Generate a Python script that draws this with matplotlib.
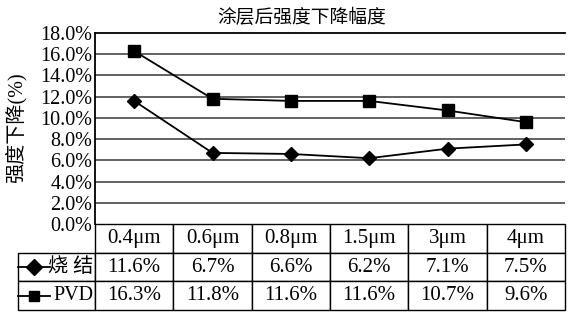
import matplotlib
matplotlib.use("Agg")
import matplotlib.pyplot as plt
from matplotlib.lines import Line2D

plt.rcParams['font.family'] = ['Liberation Serif', 'Noto Sans CJK SC', 'DejaVu Sans']

categories = ['0.4μm', '0.6μm', '0.8μm', '1.5μm', '3μm', '4μm']
sintered = [11.6, 6.7, 6.6, 6.2, 7.1, 7.5]
pvd = [16.3, 11.8, 11.6, 11.6, 10.7, 9.6]
series_names = ['烧 结', 'PVD']
yticks = [0, 2, 4, 6, 8, 10, 12, 14, 16, 18]

W, H = 571, 320
fig = plt.figure(figsize=(W / 100, H / 100), dpi=100)
x0, x1, ytop, ybot = 95, 565, 33, 224
ax = fig.add_axes([x0 / W, 1 - ybot / H, (x1 - x0) / W, (ybot - ytop) / H])

xs = range(len(categories))
ax.plot(xs, sintered, color='black', lw=1.3, marker='D', ms=7.5, zorder=3)
ax.plot(xs, pvd, color='black', lw=1.3, marker='s', ms=8, zorder=3)

ax.set_xlim(-0.5, len(categories) - 0.5)
ax.set_ylim(0, 18)
ax.set_yticks(yticks)
ax.set_yticklabels([f'{v:.1f}%' for v in yticks], fontsize=14.5)
ax.tick_params(axis='y', length=0, pad=2)
ax.set_xticks([])
for v in yticks[1:-1]:
    ax.axhline(v, color='#555555', lw=1.3, zorder=1)
ax.spines['right'].set_visible(False)
ax.spines['bottom'].set_visible(False)
ax.spines['top'].set_linewidth(1.3)
ax.spines['left'].set_linewidth(1.3)

fig.text(0.528, 1 - 17 / H, '涂层后强度下降幅度', fontsize=13.5, ha='center', va='center',
         family=['Noto Sans CJK SC'])
fig.text(16 / W, 1 - 128 / H, '强度下降(%)', fontsize=14.5, rotation=90, ha='center', va='center')

# data table, first column holds the series names
cells = [[series_names[0]] + [f'{v}%' for v in sintered],
         [series_names[1]] + [f'{v}%' for v in pvd]]
lab_w = (x0 - 18) / (x1 - x0)
tab_h = (310 - ybot) / (ybot - ytop)
tbl = ax.table(cellText=cells, colLabels=[''] + categories, cellLoc='center',
               colWidths=[lab_w] + [1 / 6] * 6,
               bbox=[-lab_w, -tab_h, 1 + lab_w, tab_h])
tbl.auto_set_font_size(False)
for (r, c), cell in tbl.get_celld().items():
    cell.set_linewidth(1.0)
    txt = cell.get_text()
    txt.set_fontsize(15)
    txt.set_family(['Liberation Serif', 'Noto Sans CJK SC'])
    if c == 0:
        txt.set_ha('right')
        cell.PAD = 0.02
        cell._loc = 'right'
        txt.set_fontsize(14.5)
    if (r, c) == (0, 0):
        cell.visible_edges = ''

# legend keys in the row labels
for i, (m, ms) in enumerate([('D', 8), ('s', 7)]):
    yk = -tab_h + tab_h * (1 - i) / 3 + tab_h / 6
    ax.add_line(Line2D([-lab_w, -lab_w + 0.068], [yk, yk], color='black', lw=1.3,
                       transform=ax.transAxes, clip_on=False))
    ax.add_line(Line2D([-lab_w + 0.034], [yk], color='black', marker=m, ms=ms,
                       transform=ax.transAxes, clip_on=False))

fig.savefig('out.png', dpi=100)
